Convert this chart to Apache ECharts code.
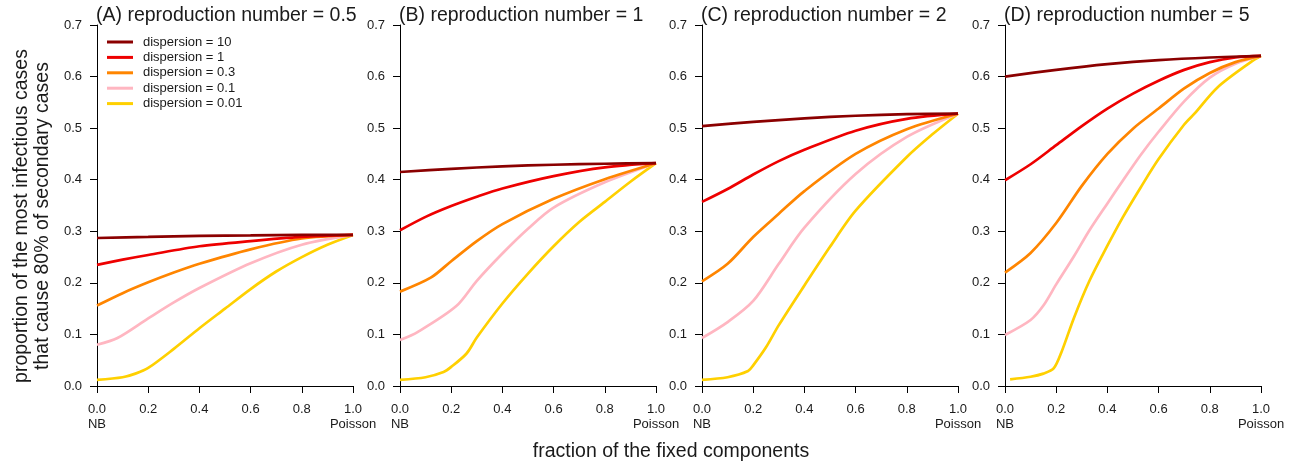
<!DOCTYPE html>
<html><head><meta charset="utf-8">
<script src="https://cdn.jsdelivr.net/npm/echarts@6/dist/echarts.min.js"></script>
<style>html,body{margin:0;padding:0;background:#fff}#c{width:1298px;height:465px}</style>
</head><body><div id="c"></div>
<script>
// ---- data ----
const dispersionNames = ['dispersion = 10', 'dispersion = 1', 'dispersion = 0.3', 'dispersion = 0.1', 'dispersion = 0.01'];
const panelTitles = ['(A) reproduction number = 0.5', '(B) reproduction number = 1', '(C) reproduction number = 2', '(D) reproduction number = 5'];
const yTickLabels = ['0.0', '0.1', '0.2', '0.3', '0.4', '0.5', '0.6', '0.7'];
const xTickLabels = ['0.0\nNB', '0.2', '0.4', '0.6', '0.8', '1.0\nPoisson'];
const xAxisTitle = 'fraction of the fixed components';
const yAxisTitle1 = 'proportion of the most infectious cases';
const yAxisTitle2 = 'that cause 80% of secondary cases';

// Panel A (R = 0.5)
const A_d10  = [[0,0.287],[0.2,0.289],[0.4,0.291],[0.6,0.292],[0.8,0.293],[1,0.293]];
const A_d1   = [[0,0.235],[0.1,0.245],[0.2,0.254],[0.4,0.271],[0.6,0.281],[0.8,0.289],[1,0.293]];
const A_d03  = [[0,0.156],[0.1,0.180],[0.2,0.201],[0.3,0.220],[0.4,0.237],[0.6,0.265],[0.8,0.286],[1,0.293]];
const A_d01  = [[0,0.080],[0.08,0.093],[0.2,0.131],[0.3,0.162],[0.4,0.190],[0.6,0.238],[0.8,0.274],[1,0.293]];
const A_d001 = [[0,0.012],[0.1,0.017],[0.15,0.024],[0.2,0.035],[0.3,0.072],[0.4,0.112],[0.5,0.150],[0.6,0.188],[0.7,0.222],[0.8,0.250],[0.9,0.274],[1,0.293]];

// Panel B (R = 1)
const B_d10  = [[0,0.415],[0.2,0.421],[0.4,0.426],[0.6,0.429],[0.8,0.431],[1,0.432]];
const B_d1   = [[0,0.302],[0.1,0.328],[0.2,0.349],[0.3,0.367],[0.4,0.383],[0.6,0.407],[0.8,0.424],[1,0.432]];
const B_d03  = [[0,0.183],[0.12,0.210],[0.2,0.242],[0.3,0.281],[0.4,0.314],[0.6,0.363],[0.8,0.401],[1,0.432]];
const B_d01  = [[0,0.089],[0.07,0.105],[0.22,0.155],[0.3,0.204],[0.4,0.257],[0.5,0.305],[0.6,0.346],[0.8,0.395],[1,0.432]];
const B_d001 = [[0,0.012],[0.1,0.017],[0.17,0.027],[0.2,0.037],[0.26,0.063],[0.3,0.094],[0.4,0.160],[0.5,0.218],[0.6,0.271],[0.7,0.318],[0.8,0.357],[0.9,0.396],[1,0.432]];

// Panel C (R = 2)
const C_d10  = [[0,0.504],[0.2,0.512],[0.4,0.519],[0.6,0.524],[0.8,0.527],[1,0.528]];
const C_d1   = [[0,0.357],[0.1,0.382],[0.2,0.410],[0.3,0.436],[0.4,0.458],[0.6,0.495],[0.8,0.518],[1,0.528]];
const C_d03  = [[0,0.203],[0.1,0.237],[0.2,0.289],[0.3,0.334],[0.4,0.378],[0.6,0.450],[0.8,0.498],[1,0.528]];
const C_d01  = [[0,0.093],[0.1,0.124],[0.2,0.165],[0.3,0.237],[0.4,0.307],[0.6,0.411],[0.8,0.483],[1,0.528]];
const C_d001 = [[0,0.012],[0.1,0.017],[0.18,0.029],[0.2,0.040],[0.25,0.075],[0.3,0.118],[0.4,0.195],[0.5,0.270],[0.6,0.340],[0.8,0.444],[0.9,0.488],[1,0.528]];

// Panel D (R = 5)
const D_d10  = [[0,0.600],[0.2,0.613],[0.4,0.624],[0.6,0.632],[0.8,0.637],[1,0.640]];
const D_d1   = [[0,0.399],[0.1,0.430],[0.2,0.467],[0.3,0.504],[0.4,0.538],[0.5,0.567],[0.6,0.592],[0.7,0.613],[0.8,0.628],[0.9,0.637],[1,0.640]];
const D_d03  = [[0,0.220],[0.1,0.258],[0.2,0.316],[0.3,0.388],[0.4,0.450],[0.5,0.499],[0.6,0.538],[0.7,0.577],[0.8,0.607],[0.9,0.628],[1,0.640]];
const D_d01  = [[0,0.099],[0.1,0.128],[0.15,0.156],[0.2,0.197],[0.27,0.252],[0.33,0.302],[0.4,0.354],[0.46,0.398],[0.53,0.448],[0.6,0.493],[0.7,0.552],[0.8,0.598],[0.9,0.625],[1,0.640]];
const D_d001 = [[0.02,0.013],[0.1,0.018],[0.15,0.024],[0.19,0.034],[0.22,0.065],[0.27,0.133],[0.33,0.204],[0.4,0.272],[0.46,0.327],[0.53,0.385],[0.6,0.440],[0.7,0.507],[0.74,0.528],[0.83,0.579],[0.96,0.628],[1,0.640]];

const panels = [
  [A_d10, A_d1, A_d03, A_d01, A_d001],
  [B_d10, B_d1, B_d03, B_d01, B_d001],
  [C_d10, C_d1, C_d03, C_d01, C_d001],
  [D_d10, D_d1, D_d03, D_d01, D_d001]
];

// ---- styles ----
const colors = ['#8B0000', '#EE0000', '#FF8500', '#FFB6C1', '#FFD000'];
const gridLefts = [97, 400, 702, 1005];
const gridWidth = 256;
const gridTop = 25;
const gridHeight = 361;
const FONT = 'Liberation Sans, Arial, Helvetica, sans-serif';
const TXT = '#1a1a1a';

const chart = echarts.init(document.getElementById('c'), null, {renderer: 'canvas'});

const grids = [], xAxes = [], yAxes = [], titles = [], series = [];
panels.forEach((p, i) => {
  grids.push({left: gridLefts[i], top: gridTop, width: gridWidth, height: gridHeight, containLabel: false});
  xAxes.push({
    type: 'value', gridIndex: i, min: 0, max: 1, interval: 0.2,
    axisLine: {show: true, onZero: false, lineStyle: {color: '#000', width: 1}},
    axisTick: {show: true, length: 7, lineStyle: {color: '#000'}},
    splitLine: {show: false},
    axisLabel: {
      margin: 16, color: TXT, fontSize: 13, fontFamily: FONT, lineHeight: 15,
      formatter: v => xTickLabels[Math.round(v / 0.2)]
    }
  });
  yAxes.push({
    type: 'value', gridIndex: i, min: 0, max: 0.7, interval: 0.1,
    axisLine: {show: true, lineStyle: {color: '#000', width: 1}},
    axisTick: {show: true, length: 7, lineStyle: {color: '#000'}},
    splitLine: {show: false},
    axisLabel: {
      margin: 15, color: TXT, fontSize: 13, fontFamily: FONT,
      formatter: v => yTickLabels[Math.round(v / 0.1)]
    }
  });
  titles.push({
    text: panelTitles[i], left: gridLefts[i] - 1, top: 6, padding: 0,
    textStyle: {fontSize: 19.5, fontWeight: 'normal', color: TXT, fontFamily: FONT}
  });
  p.forEach((d, j) => {
    series.push({
      name: dispersionNames[j], type: 'line', xAxisIndex: i, yAxisIndex: i,
      data: d, showSymbol: false, symbol: 'none', smooth: 0.3, z: 10 - j,
      lineStyle: {color: colors[j], width: 2.7}, itemStyle: {color: colors[j]},
      animation: false
    });
  });
});

chart.setOption({
  backgroundColor: '#fff',
  animation: false,
  title: titles,
  grid: grids,
  xAxis: xAxes,
  yAxis: yAxes,
  legend: {
    data: dispersionNames, orient: 'vertical', left: 107, top: 35, padding: 0,
    itemWidth: 26, itemHeight: 3, itemGap: 1.4, icon: 'rect',
    textStyle: {fontSize: 13, color: TXT, fontFamily: FONT, lineHeight: 14, padding: [0, 0, 0, 5]}
  },
  graphic: [
    {type: 'text', x: 22, y: 216, rotation: Math.PI / 2,
     style: {text: yAxisTitle1, textAlign: 'center', textVerticalAlign: 'middle', fontSize: 19.5, fontFamily: FONT, fill: TXT}},
    {type: 'text', x: 43, y: 216, rotation: Math.PI / 2,
     style: {text: yAxisTitle2, textAlign: 'center', textVerticalAlign: 'middle', fontSize: 19.5, fontFamily: FONT, fill: TXT}},
    {type: 'text', x: 671, y: 452,
     style: {text: xAxisTitle, textAlign: 'center', textVerticalAlign: 'middle', fontSize: 19.5, fontFamily: FONT, fill: TXT}}
  ],
  series: series
});
</script>
</body></html>
